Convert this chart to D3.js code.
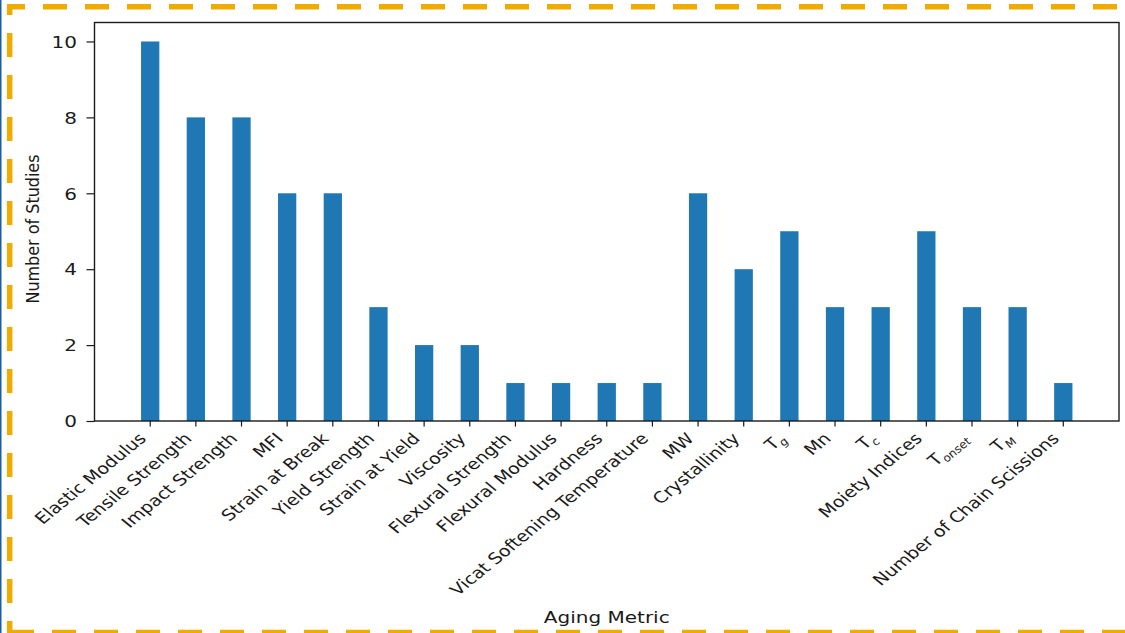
<!DOCTYPE html>
<html>
<head>
<meta charset="utf-8">
<script src="https://cdn.jsdelivr.net/npm/d3@7"></script>
<style>
  html, body { margin: 0; padding: 0; background: #fff; }
  svg { display: block; }
  text { font-family: "DejaVu Sans", sans-serif; fill: #1a1a1a; }
</style>
</head>
<body>
<svg id="chart" width="1125" height="633"></svg>
<script>
// Aging metrics (a "_" marks a subscript) and how many studies report each
const categories = [
  "Elastic Modulus", "Tensile Strength", "Impact Strength", "MFI", "Strain at Break",
  "Yield Strength", "Strain at Yield", "Viscosity", "Flexural Strength", "Flexural Modulus",
  "Hardness", "Vicat Softening Temperature", "MW", "Crystallinity", "T_g", "Mn", "T_c",
  "Moiety Indices", "T_onset", "T_M", "Number of Chain Scissions"
];
const counts = [10, 8, 8, 6, 6, 3, 2, 2, 1, 1, 1, 1, 6, 4, 5, 3, 3, 5, 3, 3, 1];
const yTicks = [0, 2, 4, 6, 8, 10];
const xTitle = "Aging Metric";
const yTitle = "Number of Studies";

const W = 1125, H = 633;
const plot = { left: 94.5, right: 1119, top: 22.5, bottom: 421 };
const KX = 1.25;              // horizontal stretch of the lettering
const KX_ROT = 1.22;          // stretch for the slanted category labels
const KX_YT = 1.05;           // stretch for the vertical axis title
const barColor = "#1f77b4";
const inkColor = "#1a1a1a";
const frameColor = "#f0ab00";

const svg = d3.select("#chart");

// Thin edge line and dashed frame around the figure
svg.append("line")
  .attr("x1", 0.75).attr("x2", 0.75).attr("y1", 0).attr("y2", H)
  .attr("stroke", "#1a60a0").attr("stroke-width", 1.5);

const frame = svg.append("g")
  .attr("fill", "none")
  .attr("stroke", frameColor)
  .attr("stroke-width", 5.5)
  .attr("stroke-dasharray", "24 18");
frame.append("line").attr("x1", 7).attr("x2", W + 10).attr("y1", 6.7).attr("y2", 6.7)
  .attr("stroke-dashoffset", 6);
frame.append("line").attr("x1", 9.7).attr("x2", 9.7).attr("y1", 4).attr("y2", H + 10)
  .attr("stroke-dashoffset", 13);
frame.append("line").attr("x1", 7).attr("x2", W + 10).attr("y1", 632.5).attr("y2", 632.5)
  .attr("stroke-dashoffset", 39);

// Scales
const x = d3.scaleBand()
  .domain(categories)
  .range([plot.left, plot.right])
  .paddingInner(0.6)
  .paddingOuter(1.02);

const y = d3.scaleLinear()
  .domain([0, 10.5])
  .range([plot.bottom, plot.top]);

// Bars
svg.append("g")
  .selectAll("rect")
  .data(categories.map((c, i) => ({ c, v: counts[i] })))
  .join("rect")
  .attr("x", d => x(d.c))
  .attr("y", d => y(d.v))
  .attr("width", x.bandwidth())
  .attr("height", d => y(0) - y(d.v))
  .attr("fill", barColor);

// Y axis
const yAxis = svg.append("g")
  .attr("transform", `translate(${plot.left},0)`)
  .call(d3.axisLeft(y).tickValues(yTicks).tickFormat(d3.format("d")).tickSize(8).tickSizeOuter(0));
yAxis.select(".domain").remove();
yAxis.selectAll(".tick line").attr("stroke", inkColor).attr("stroke-width", 1.2);
yAxis.selectAll(".tick text")
  .attr("x", null).attr("dy", "0.36em")
  .attr("text-anchor", "end")
  .attr("font-size", 16)
  .attr("font-family", null)
  .attr("fill", inkColor)
  .attr("transform", `translate(-17.5,0) scale(${KX},1)`);

// X axis
const xAxis = svg.append("g")
  .attr("transform", `translate(0,${plot.bottom})`)
  .call(d3.axisBottom(x).tickSize(5.5).tickSizeOuter(0));
xAxis.select(".domain").remove();
xAxis.selectAll(".tick line").attr("stroke", inkColor).attr("stroke-width", 1.2);
xAxis.selectAll(".tick text")
  .attr("y", null).attr("dy", null)
  .attr("text-anchor", "end")
  .attr("font-size", 15.6)
  .attr("font-family", null)
  .attr("fill", inkColor)
  .attr("transform", `translate(-3,18.5) scale(${KX_ROT},1) rotate(-45)`)
  .each(function(d) {
    const t = d3.select(this);
    const parts = d.split("_");
    t.text(null);
    t.append("tspan").text(parts[0]);
    if (parts.length > 1) {
      t.append("tspan")
        .attr("dy", "0.35em")
        .attr("font-size", 10.5)
        .attr("font-style", "italic")
        .text(parts[1]);
    }
  });

// Axes frame
svg.append("rect")
  .attr("x", plot.left).attr("y", plot.top)
  .attr("width", plot.right - plot.left)
  .attr("height", plot.bottom - plot.top)
  .attr("fill", "none")
  .attr("stroke", inkColor)
  .attr("stroke-width", 1.4);

// Axis titles
svg.append("text")
  .attr("text-anchor", "middle")
  .attr("font-size", 16)
  .attr("transform", `translate(${(plot.left + plot.right) / 2},623) scale(${KX},1)`)
  .text(xTitle);

svg.append("text")
  .attr("text-anchor", "middle")
  .attr("font-size", 16)
  .attr("transform", `translate(38.5,229) scale(${KX_YT},1) rotate(-90)`)
  .text(yTitle);
</script>
</body>
</html>
